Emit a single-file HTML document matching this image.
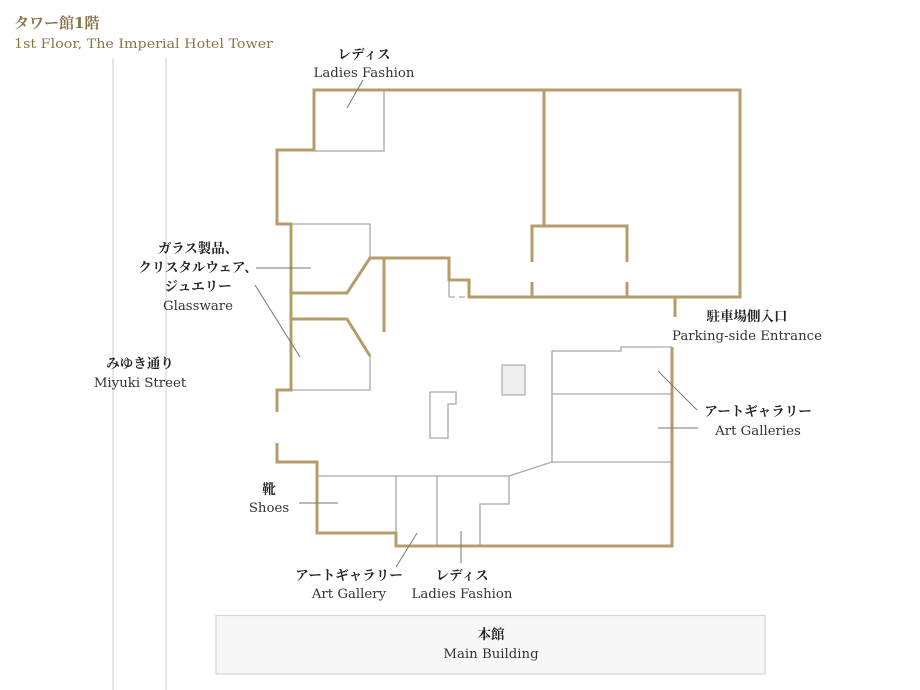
<!DOCTYPE html>
<html><head><meta charset="utf-8"><style>
html,body{margin:0;padding:0;background:#fff;width:920px;height:690px;overflow:hidden}
svg{display:block}
.j{font-family:"DejaVu Serif","Noto Serif CJK JP",serif;font-weight:bold;font-size:13.5px;fill:#222;text-anchor:middle}
.e{font-family:"DejaVu Serif","Noto Serif CJK JP",serif;font-size:13.3px;fill:#333;text-anchor:middle}
.g{fill:none;stroke:#b59c68;stroke-width:3}
.l{fill:none;stroke:#a8a8a8;stroke-width:1.3}
.k{fill:none;stroke:#777;stroke-width:1}
</style></head><body>
<svg width="920" height="690" viewBox="0 0 920 690" xmlns="http://www.w3.org/2000/svg">
<text x="14" y="28" style="font-family:'DejaVu Serif','Noto Serif CJK JP',serif;font-weight:bold;font-size:15px;fill:#8a7447">タワー館1階</text>
<text x="14" y="48" style="font-family:'DejaVu Serif','Noto Serif CJK JP',serif;font-size:13px;fill:#8a7447" textLength="259" lengthAdjust="spacingAndGlyphs">1st Floor, The Imperial Hotel Tower</text>
<line x1="113" y1="58" x2="113" y2="690" stroke="#d6d6d6" stroke-width="1.2"/>
<line x1="166" y1="58" x2="166" y2="690" stroke="#d6d6d6" stroke-width="1.2"/>
<rect x="216" y="615.5" width="549" height="58.5" fill="#f7f7f7" stroke="#d4d4d4" stroke-width="1.2"/>
<polyline class="l" points="314,151 384,151 384,90"/>
<polyline class="l" points="291,224 370,224 370,258"/>
<polyline class="l" points="370,356 370,390 291,390"/>
<polyline class="l" points="449,280 449,297" stroke="#999"/>
<line x1="449" y1="297" x2="469" y2="297" stroke="#aaa" stroke-width="1.3" stroke-dasharray="6,4"/>
<rect x="502" y="365" width="23" height="30" fill="#eee" stroke="#aaa" stroke-width="1.2"/>
<polyline class="l" points="430,392 456,392 456,404 448,404 448,438 430,438 430,392" stroke="#bbb"/>
<polyline class="l" points="552,462 552,351 621,351 621,347 672,347"/>
<line class="l" x1="552" y1="394" x2="672" y2="394"/>
<line class="l" x1="552" y1="462" x2="672" y2="462"/>
<polyline class="l" points="552,462 509,476 317,476"/>
<line class="l" x1="396" y1="476" x2="396" y2="546"/>
<line class="l" x1="437" y1="476" x2="437" y2="546"/>
<polyline class="l" points="509,476 509,504 480,504 480,546"/>
<polyline class="g" points="314,151 314,90 740,90 740,297 469,297 469,280 449,280 449,258 370,258 347,293 291,293"/>
<polyline class="g" points="314,150 277,150 277,224 291,224 291,390 277,390 277,412"/>
<polyline class="g" points="277,443 277,462 317,462 317,533 396,533 396,546 672,546 672,347"/>
<line class="g" x1="675" y1="297" x2="675" y2="317"/>
<polyline class="g" points="544,90 544,226"/>
<polyline class="g" points="532,262 532,226 627,226 627,262"/>
<line class="g" x1="532" y1="282" x2="532" y2="297"/>
<line class="g" x1="627" y1="282" x2="627" y2="297"/>
<line class="g" x1="384" y1="258" x2="384" y2="332"/>
<polyline class="g" points="291,319 347,319 370,356"/>
<line class="k" x1="347" y1="108" x2="363" y2="80"/>
<line class="k" x1="256" y1="268" x2="311" y2="268"/>
<line class="k" x1="255" y1="285" x2="300" y2="357"/>
<line class="k" x1="658" y1="371" x2="697" y2="410"/>
<line class="k" x1="658" y1="428" x2="698" y2="428"/>
<line class="k" x1="299" y1="503" x2="338" y2="503"/>
<line class="k" x1="417" y1="533" x2="396" y2="567"/>
<line class="k" x1="461" y1="531" x2="461" y2="563"/>
<text class="j" x="364" y="59">レディス</text>
<text class="e" x="364" y="77">Ladies Fashion</text>
<text class="j" x="198" y="253">ガラス製品、</text>
<text class="j" x="198" y="272">クリスタルウェア、</text>
<text class="j" x="198" y="291">ジュエリー</text>
<text class="e" x="198" y="310">Glassware</text>
<text class="j" x="140" y="368">みゆき通り</text>
<text class="e" x="140" y="387">Miyuki Street</text>
<text class="j" x="747" y="321">駐車場側入口</text>
<text class="e" x="747" y="340">Parking-side Entrance</text>
<text class="j" x="758" y="416">アートギャラリー</text>
<text class="e" x="758" y="435">Art Galleries</text>
<text class="j" x="269" y="494">靴</text>
<text class="e" x="269" y="512">Shoes</text>
<text class="j" x="349" y="580">アートギャラリー</text>
<text class="e" x="349" y="598">Art Gallery</text>
<text class="j" x="462" y="580">レディス</text>
<text class="e" x="462" y="598">Ladies Fashion</text>
<text class="j" x="491" y="639">本館</text>
<text class="e" x="491" y="658">Main Building</text>
</svg>
</body></html>
